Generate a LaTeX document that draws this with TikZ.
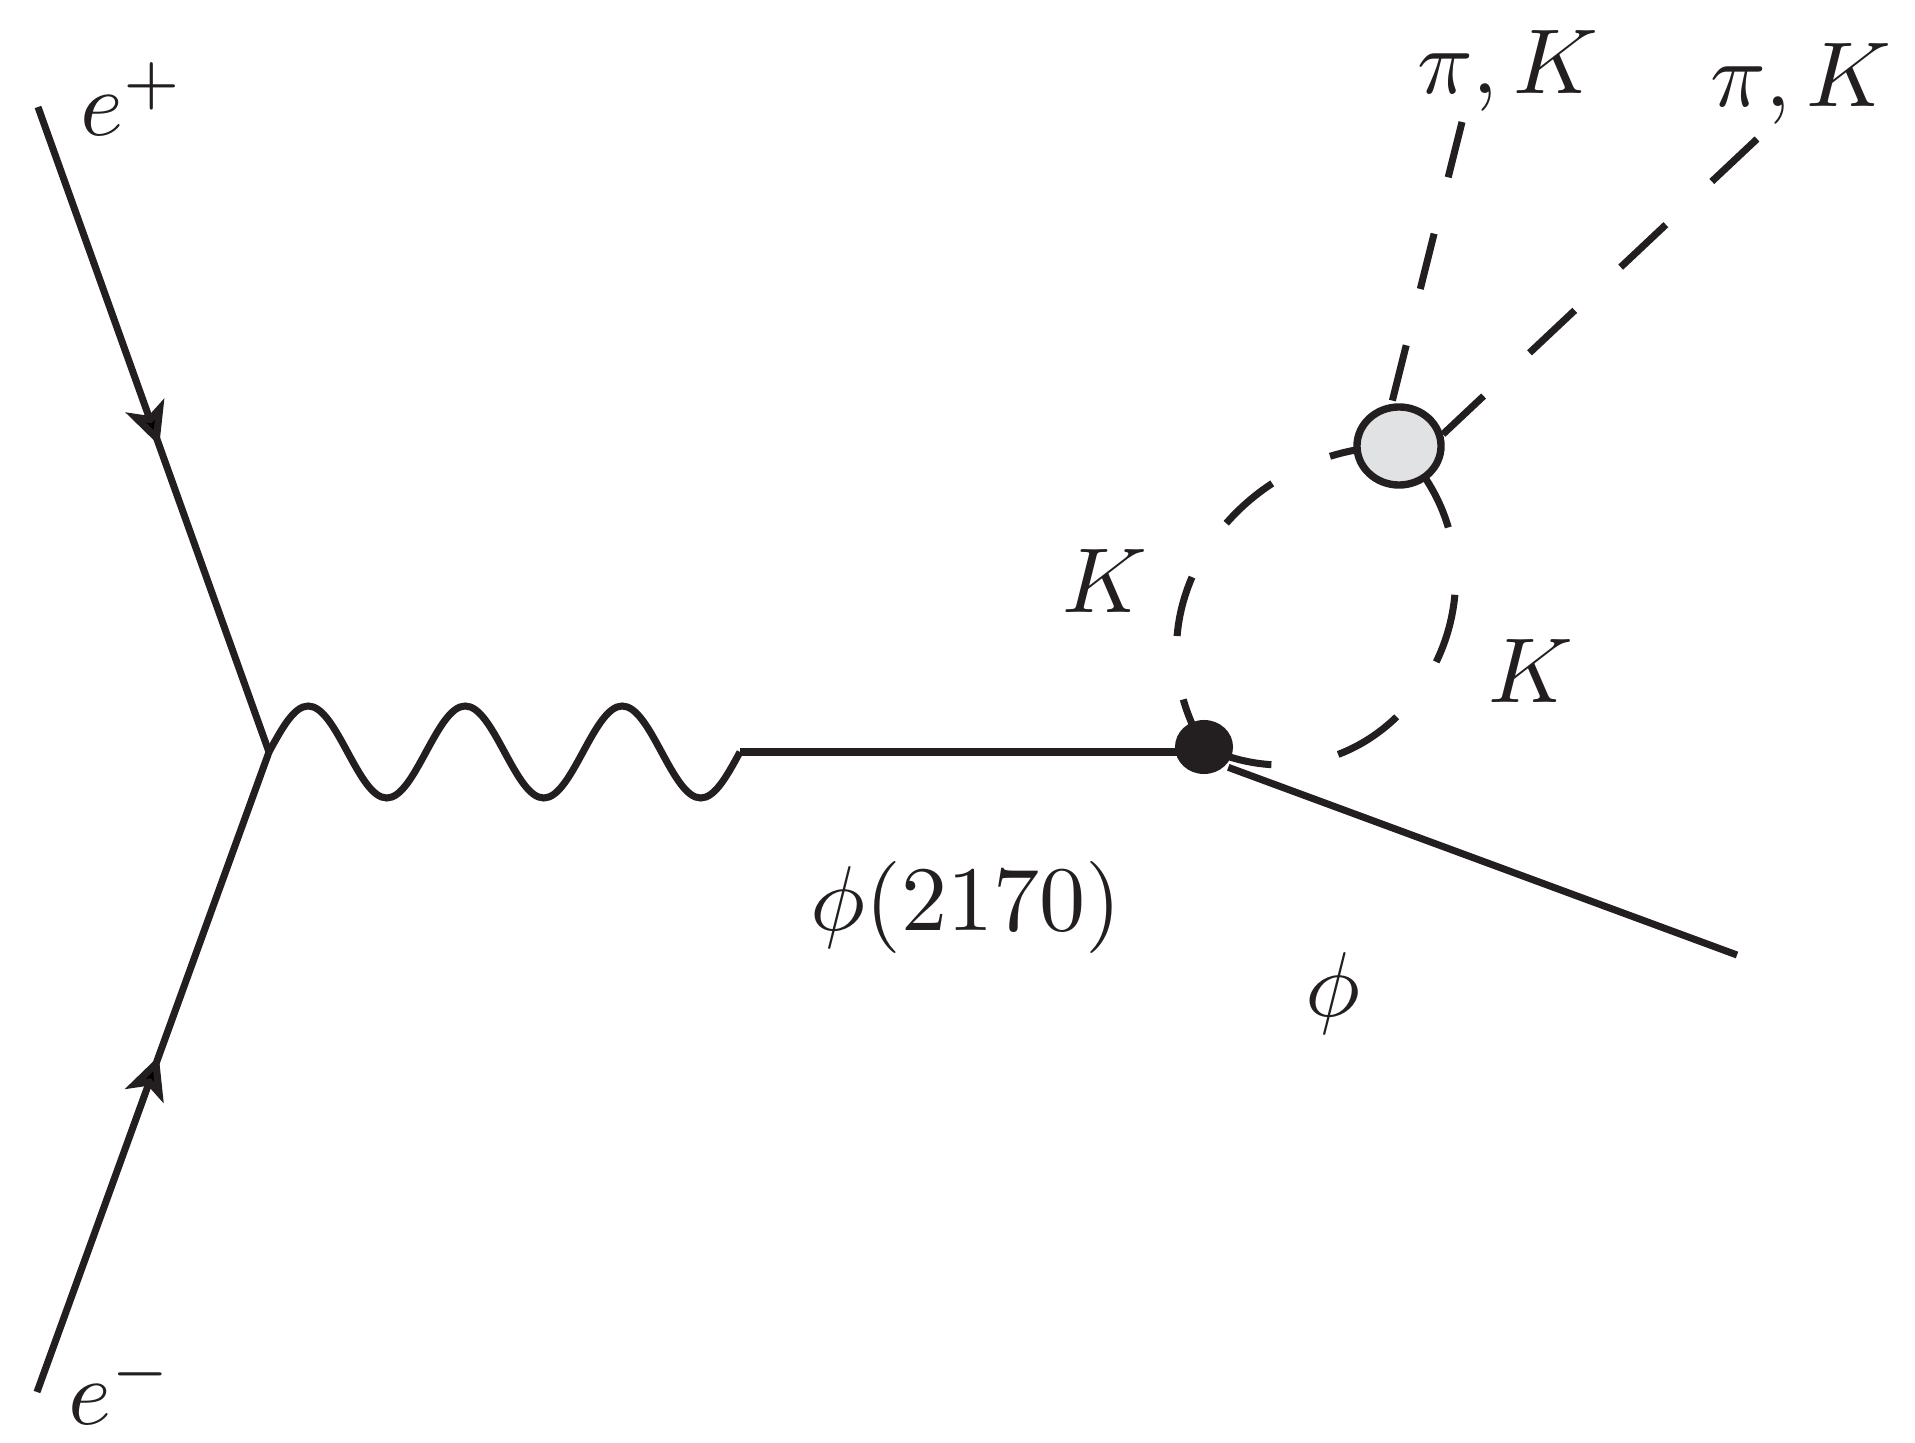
\documentclass[tikz,border=0pt]{standalone}
\usetikzlibrary{arrows.meta,decorations.markings,shapes.geometric,backgrounds}
\definecolor{ink}{RGB}{35,31,32}
\definecolor{blobgrey}{RGB}{225,226,228}
\newcommand{\biglbl}[1]{\scalebox{2.62}{#1}}
\begin{document}
\begin{tikzpicture}[x=0.01cm, y=-0.01cm, line width=2pt, color=ink,
  fermion/.style={draw=ink, line width=2pt, postaction={decorate},
    decoration={markings, mark=at position 0.525 with {\arrow{Stealth[length=12pt,width=11.5pt,inset=3pt]}}}},
  plainline/.style={draw=ink, line width=2pt},
  kaonleft/.style={draw=ink, line width=2pt, dash pattern=on 17.36pt off 18.21pt, dash phase=2.56pt},
  kaonright/.style={draw=ink, line width=2pt, dash pattern=on 19.92pt off 19.35pt},
  outA/.style={draw=ink, line width=2pt, dash pattern=on 16.22pt off 16.5pt},
  outB/.style={draw=ink, line width=2pt, dash pattern=on 17.64pt off 17.93pt},
  lbl/.style={inner sep=0pt, anchor=base, text=ink},
  dotvertex/.style={ellipse, fill=ink, minimum width=0.58cm, minimum height=0.54cm, inner sep=0pt},
  blobvertex/.style={ellipse, draw=ink, fill=blobgrey, line width=2.1pt, minimum width=0.84cm, minimum height=0.78cm, inner sep=0pt}]

\useasboundingbox (0,0) rectangle (1915,1443);

% free ends and vertices
\coordinate (ep) at (38,107);
\coordinate (em) at (37,1392);
\coordinate (v) at (269,752);
\coordinate (wend) at (740,752);
\coordinate (phiend) at (1737,955);
\coordinate (pk1end) at (1462,122);
\coordinate (pk2end) at (1757,139);

\node[dotvertex] (dot) at (1204,747) {};
\node[blobvertex] (blob) at (1399,446) {};

% labels
\node[lbl, anchor=base west] (lep) at (77,136) {\biglbl{$e^+$}};
\node[lbl, anchor=base west] (lem) at (65,1424) {\biglbl{$e^-$}};
\node[lbl, anchor=base west] (lk1) at (1059,613) {\biglbl{$K$}};
\node[lbl, anchor=base west] (lk2) at (1485,703) {\biglbl{$K$}};
\node[lbl] (lphires) at (966,930) {\biglbl{$\phi(2170)$}};
\node[lbl] (lphi) at (1333,1016) {\biglbl{$\phi$}};
\node[lbl] (lpk1) at (1508,94) {\biglbl{$\pi, K$}};
\node[lbl] (lpk2) at (1801,107) {\biglbl{$\pi, K$}};

\begin{scope}[on background layer, line width=2pt, color=ink]
  \draw[fermion] (ep) -- (v);
  \draw[fermion] (em) -- (v);
  \draw[plainline] (v)
    sin ++(39.25,-46) cos ++(39.25,46) sin ++(39.25,46) cos ++(39.25,-46)
    sin ++(39.25,-46) cos ++(39.25,46) sin ++(39.25,46) cos ++(39.25,-46)
    sin ++(39.25,-46) cos ++(39.25,46) sin ++(39.25,46) cos ++(39.25,-46);
  \draw[plainline] (wend) -- (wend -| dot.center);
  \draw[plainline] (dot.-40) -- (phiend);
  \draw[kaonleft] (dot.center) to[out=121, in=180, looseness=1.15] (blob.center);
  \draw[kaonright] (dot.center) to[out=-25, in=-45, looseness=1.45] (blob.center);
  \draw[outA] (pk1end) -- (blob.100);
  \draw[outB] (pk2end) -- (blob.15);
\end{scope}
\end{tikzpicture}
\end{document}
